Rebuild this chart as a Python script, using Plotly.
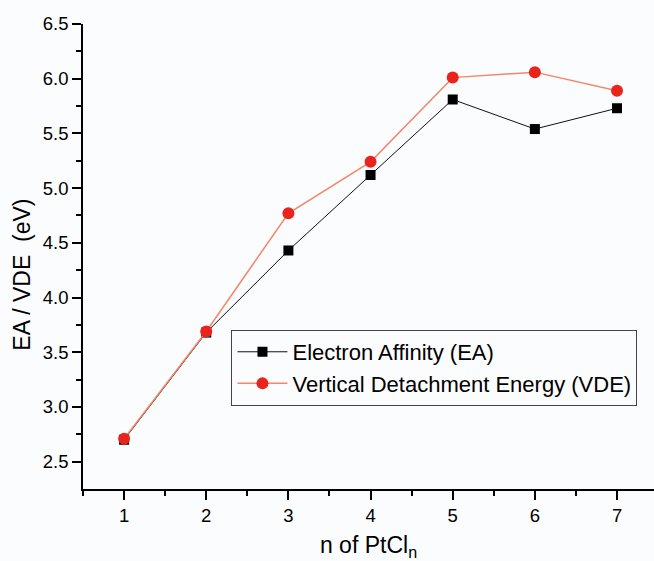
import plotly.graph_objects as go

n = [1, 2, 3, 4, 5, 6, 7]
ea = [2.70, 3.68, 4.43, 5.12, 5.81, 5.54, 5.73]
vde = [2.71, 3.69, 4.77, 5.24, 6.01, 6.06, 5.89]
y_ticks = [2.5, 3.0, 3.5, 4.0, 4.5, 5.0, 5.5, 6.0, 6.5]
y_labels = ["2.5", "3.0", "3.5", "4.0", "4.5", "5.0", "5.5", "6.0", "6.5"]

FONT = "Arial, Liberation Sans, sans-serif"

fig = go.Figure()
fig.add_trace(go.Scatter(
    x=n, y=ea, mode="lines+markers", name="Electron Affinity (EA)",
    line=dict(color="#111111", width=1),
    marker=dict(symbol="square", size=10, color="#000000"),
))
fig.add_trace(go.Scatter(
    x=n, y=vde, mode="lines+markers", name="Vertical Detachment Energy (VDE)",
    line=dict(color="#f4866a", width=1.5),
    marker=dict(symbol="circle", size=12, color="#e8241d"),
))

fig.update_layout(
    width=654, height=561,
    margin=dict(l=83, r=0, t=24, b=72),
    paper_bgcolor="#fbfcfe", plot_bgcolor="#fbfcfe",
    font=dict(family=FONT, color="#000000", size=18),
    showlegend=True,
    legend=dict(
        x=0.26, y=0.342, xanchor="left", yanchor="top",
        bordercolor="#444444", borderwidth=1, bgcolor="rgba(255,255,255,0)",
        font=dict(family=FONT, size=22, color="#000000"),
        itemwidth=50, tracegroupgap=0,
    ),
    xaxis=dict(
        range=[0.5, 7.45], tickmode="array", tickvals=n, ticktext=[str(v) for v in n],
        showgrid=False, zeroline=False, showline=True, linecolor="#000000", linewidth=1.5,
        ticks="outside", ticklen=9, tickwidth=1.5, tickcolor="#000000",
        minor=dict(tickvals=[0.5, 1.5, 2.5, 3.5, 4.5, 5.5, 6.5], ticklen=5, tickwidth=1.5,
                   tickcolor="#000000", ticks="outside", showgrid=False),
        tickfont=dict(size=18.5), automargin=False,
        title=dict(text="n of PtCl<sub>n</sub>", font=dict(size=23), standoff=14),
    ),
    yaxis=dict(
        range=[2.25, 6.5], tickmode="array", tickvals=y_ticks, ticktext=y_labels,
        showgrid=False, zeroline=False, showline=True, linecolor="#000000", linewidth=1.5,
        ticks="outside", ticklen=9, tickwidth=1.5, tickcolor="#000000",
        minor=dict(tickvals=[2.75, 3.25, 3.75, 4.25, 4.75, 5.25, 5.75, 6.25], ticklen=5,
                   tickwidth=1.5, tickcolor="#000000", ticks="outside", showgrid=False),
        tickfont=dict(size=18.5), automargin=False,
    ),
    annotations=[dict(
        text="EA / VDE\u00a0\u00a0(eV)", textangle=-90, showarrow=False,
        xref="paper", yref="paper", x=-0.106, y=0.462, xanchor="center", yanchor="middle",
        font=dict(family=FONT, size=23, color="#000000"),
    )],
)

fig.write_html(
    "out.html",
    config={"displayModeBar": False},
    post_script="document.body.style.margin='0';document.body.style.background='#fbfcfe';",
)
